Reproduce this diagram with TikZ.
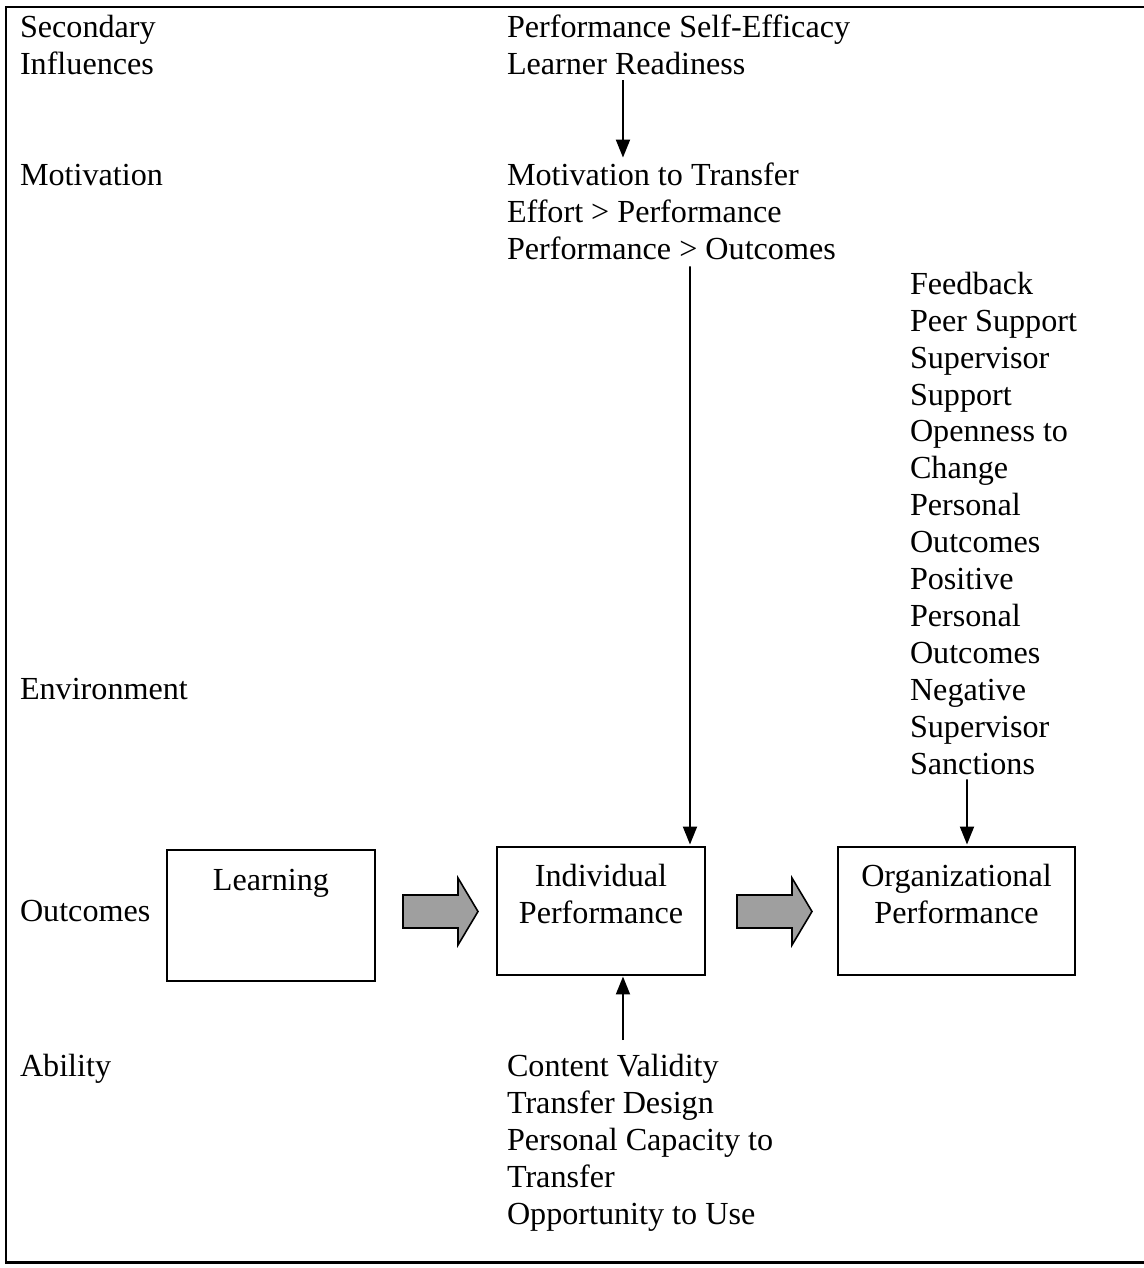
\documentclass[tikz,border=0pt]{standalone}
\usepackage{fontspec}
\setmainfont{Liberation Serif}
\usepackage{tikz}
\usetikzlibrary{arrows.meta}
\usetikzlibrary{positioning}

\begin{document}
\begin{tikzpicture}[
        x=0.02cm,
        y=-0.02cm,
        font=\fontsize{18.3}{21}\selectfont,
        textS/.style={
            inner sep=0pt,
            outer sep=0pt,
            align=left,
            anchor=base west
        },
        titleS/.style={
            inner sep=0pt,
            outer sep=0pt,
            align=center,
            anchor=base
        },
        boxS/.style={
            draw=black,
            line width=1.1pt,
            rectangle,
            inner sep=0pt,
            outer sep=0pt,
            minimum height=2.56cm
        },
        arrowS/.style={
            line width=1.1pt,
            -{Triangle[length=0.36cm,width=0.28cm]}
        },
        blockS/.style={
            draw=black,
            line width=0.9pt,
            fill=gray!75
        },
        frameS/.style={line width=1.7pt},
    ]

    \useasboundingbox (0,0) rectangle (1143,1268);

    % row labels (placed at the baseline of the last line)
    \node[textS] (SecL) at (20,74) {Secondary\\Influences};
    \node[textS] (MotL) at (20,185) {Motivation};
    \node[textS] (EnvL) at (20,699) {Environment};
    \node[textS] (OutL) at (20,921) {Outcomes};
    \node[textS] (AbiL) at (20,1076) {Ability};

    % factor lists
    \node[textS] (SecT) at (507,74) {Performance Self-Efficacy\\Learner Readiness};
    \node[textS] (MotT) at (507,259) {Motivation to Transfer\\Effort > Performance\\Performance > Outcomes};
    \node[textS] (EnvT) at (910,774) {Feedback\\Peer Support\\Supervisor\\Support\\Openness to\\Change\\Personal\\Outcomes\\Positive\\Personal\\Outcomes\\Negative\\Supervisor\\Sanctions};
    \node[textS] (AbiT) at (507,1224) {Content Validity\\Transfer Design\\Personal Capacity to\\Transfer\\Opportunity to Use};

    % outcome boxes
    \node[boxS, minimum width=4.16cm, minimum height=2.62cm] (Lrn) at (271,915.5) {};
    \node[boxS, minimum width=4.16cm] (IndP) at (601,911) {};
    \node[boxS, minimum width=4.74cm] (OrgP) at (956.5,911) {};
    \node[titleS] (LrnT) at (271,890) {Learning};
    \node[titleS] (IndT) at (601,923) {Individual\\Performance};
    \node[titleS] (OrgT) at (956.5,923) {Organizational\\Performance};

    % block arrows
    \draw[blockS] (403,895) -- (458,895) -- (458,878) -- (478,911.5) -- (458,945) -- (458,928) -- (403,928) -- cycle;
    \draw[blockS] (737,895) -- (792,895) -- (792,878) -- (812,911.5) -- (792,945) -- (792,928) -- (737,928) -- cycle;

    % influences
    \draw[arrowS] ([xshift=2.32cm,yshift=-0.12cm]SecT.south west) -- ([xshift=2.32cm,yshift=0.1cm]MotT.north west);
    \draw[arrowS] ([xshift=3.66cm,yshift=-0.14cm]MotT.south west) -- ([xshift=3.86cm,yshift=0.05cm]IndP.north west);
    \draw[arrowS] ([xshift=1.14cm,yshift=-0.1cm]EnvT.south west) -- ([xshift=2.58cm,yshift=0.05cm]OrgP.north west);
    \draw[arrowS] ([xshift=2.32cm,yshift=0.28cm]AbiT.north west) -- ([xshift=2.32cm,yshift=-0.03cm]AbiT.north west |- IndP.south);

    % frame
    \draw[frameS] (1150,7) -- (6,7) -- (6,1262) -- (1150,1262);

\end{tikzpicture}
\end{document}
